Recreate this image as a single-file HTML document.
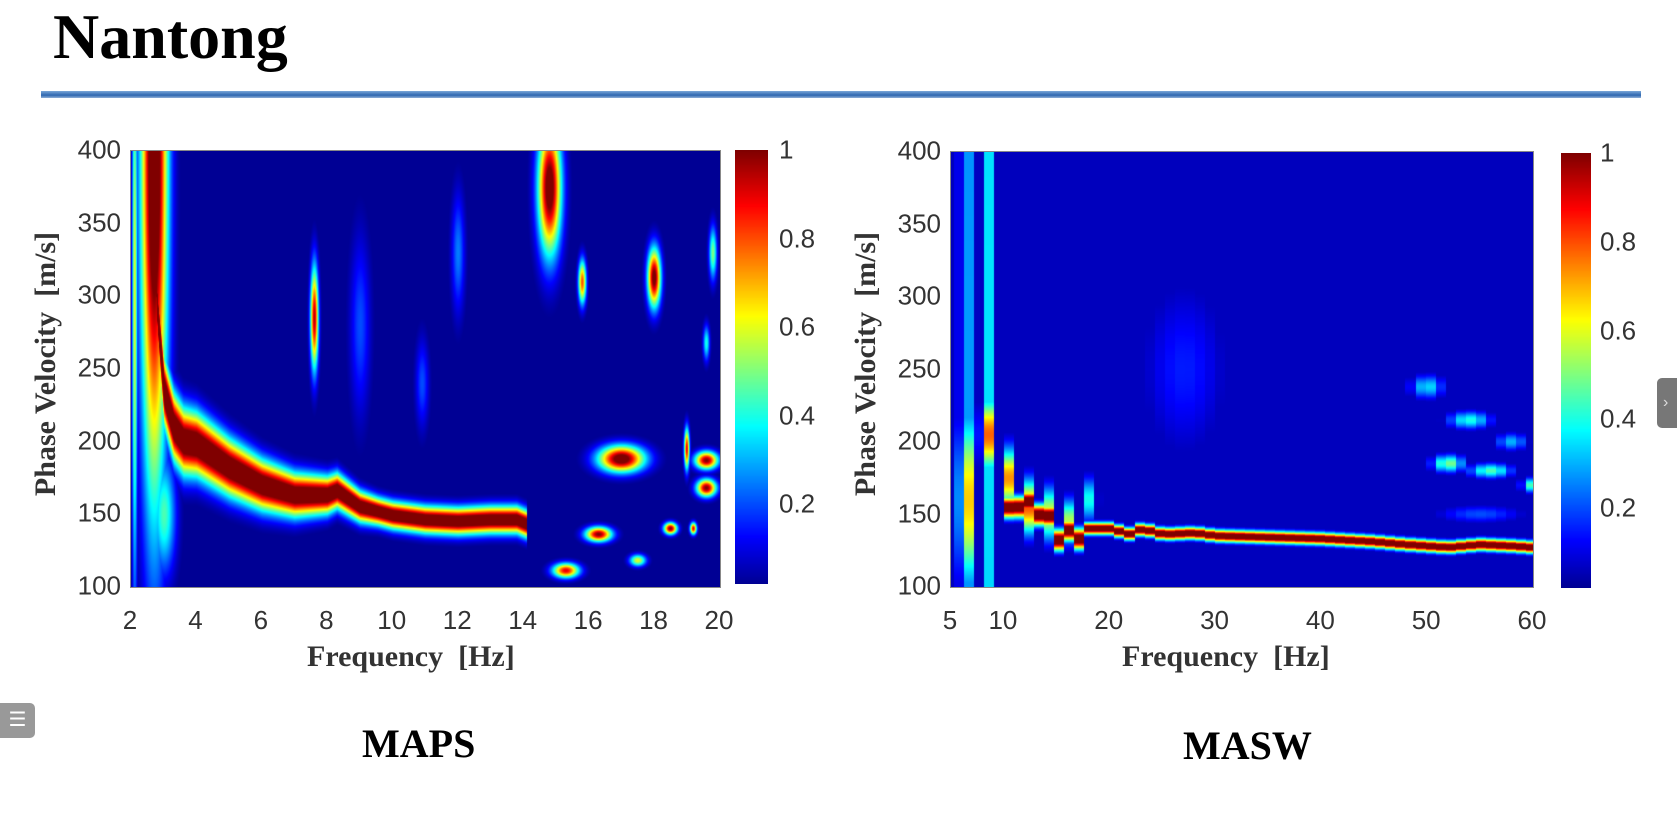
<!DOCTYPE html>
<html><head><meta charset="utf-8">
<style>
body{margin:0;width:1677px;height:832px;background:#fff;position:relative;overflow:hidden;font-family:"Liberation Sans",sans-serif;}
.abs{position:absolute;}
.tick{position:absolute;font-size:26px;color:#333;}
.xl{font-family:"Liberation Serif",serif;font-weight:bold;font-size:30px;color:#333;position:absolute;white-space:nowrap;}
canvas{position:absolute;}
</style></head><body>
<div class="abs" style="left:53px;top:0px;font-family:'Liberation Serif',serif;font-weight:bold;font-size:64px;color:#000;">Nantong</div>
<div class="abs" style="left:41px;top:91px;width:1600px;height:7px;background:linear-gradient(#7aa6d8,#2f67b0 60%,#8fb0d8);"></div>

<canvas id="c1" width="589" height="436" style="left:130px;top:150px;border:1px solid #888;box-sizing:border-box"></canvas>
<canvas id="cb1" width="33" height="434" style="left:735px;top:150px;"></canvas>
<canvas id="c2" width="582" height="435" style="left:950px;top:151px;border:1px solid #888;box-sizing:border-box"></canvas>
<canvas id="cb2" width="30" height="435" style="left:1561px;top:153px;"></canvas>
<div id="labels"></div>

<div class="xl" style="left:307px;top:640px;">Frequency&nbsp; [Hz]</div>
<div class="xl" style="left:1122px;top:640px;">Frequency&nbsp; [Hz]</div>
<div class="xl" style="left:46px;top:364px;transform:translate(-50%,-50%) rotate(-90deg);">Phase Velocity&nbsp; [m/s]</div>
<div class="xl" style="left:866px;top:364px;transform:translate(-50%,-50%) rotate(-90deg);">Phase Velocity&nbsp; [m/s]</div>
<div class="abs" style="left:362px;top:720px;font-family:'Liberation Serif',serif;font-weight:bold;font-size:40px;">MAPS</div>
<div class="abs" style="left:1183px;top:722px;font-family:'Liberation Serif',serif;font-weight:bold;font-size:40px;">MASW</div>
<div class="abs" style="left:1657px;top:378px;width:22px;height:50px;background:#777;border-radius:5px 0 0 5px;color:#ddd;font-size:16px;line-height:50px;text-indent:6px;">›</div>
<div class="abs" style="left:0;top:703px;width:35px;height:35px;background:#999;border-radius:0 5px 5px 0;color:#fff;font-size:20px;line-height:35px;text-align:center;">☰</div>

<script>
// MAPS data
const mapsFreqTicks=[2,4,6,8,10,12,14,16,18,20];
const velTicks=[100,150,200,250,300,350,400];
const cbTicks=[0.2,0.4,0.6,0.8,1];
const mapsCurveF=[2.6,2.8,3.0,3.3,3.6,4.0,4.5,5,6,7,8,8.3,9,10,11,12,13,13.8,14.1];
const mapsCurveV=[400,290,235,210,200,198,190,182,170,163,163,166,155,149,146,145,146,146,143];
// blobs: f, v, sf, sv, amp
const mapsBlobF=[2.7,2.1,7.6,14.8,15.8,17.0,18.0,19.0,19.6,19.6,16.3,18.5,19.2,15.3,17.5,19.8,12.0,9.0,19.6,10.9,3.0];
const mapsBlobV=[400,300,285,375,310,188,313,195,187,168,136,140,140,111,118,330,330,280,268,240,150];
const mapsBlobSF=[0.4,0.08,0.12,0.35,0.12,0.7,0.2,0.08,0.35,0.3,0.4,0.2,0.1,0.4,0.25,0.12,0.2,0.3,0.1,0.2,0.35];
const mapsBlobSV=[230,200,35,45,15,9,20,14,6,6,5,4,4,5,4,18,40,60,12,30,40];
const mapsBlobA=[1.2,0.6,0.95,1.1,0.8,1.1,1.05,0.9,1.0,1.0,1.0,1.0,0.9,0.9,0.6,0.5,0.25,0.2,0.4,0.2,0.45];
// MASW data
const maswFreqTicks=[5,10,20,30,40,50,60];
const maswCurveF=[10,11,12,13,14,15,16,17,18,20,22,23,25,28,30,35,40,45,48,52,55,58,60];
const maswCurveV=[160,148,165,147,155,130,140,132,140,140,136,140,136,137,135,134,133,131,129,127,129,128,127];
const maswBlobF=[6.3,6.3,8.3,8.3,10.3,12.3,14.3,16.3,18.3,27.0,50,54,58,52,56,60,55];
const maswBlobV=[250,160,300,205,175,155,150,145,160,250,238,215,200,185,180,170,150];
const maswBlobSF=[0.5,0.5,0.5,0.5,0.5,0.5,0.5,0.5,0.5,4,1.5,2,1.5,1.5,2,1,4];
const maswBlobSV=[1000,60,1000,25,20,18,18,15,15,60,8,6,6,6,5,5,6];
const maswBlobA=[0.45,1.1,0.45,1.0,0.8,0.8,0.6,0.6,0.5,0.15,0.35,0.4,0.3,0.5,0.45,0.45,0.2];

function jet(t){t=Math.max(0,Math.min(1,t));
 const r=Math.max(0,Math.min(1,1.5-Math.abs(4*t-3))),g=Math.max(0,Math.min(1,1.5-Math.abs(4*t-2))),b=Math.max(0,Math.min(1,1.5-Math.abs(4*t-1)));
 return [r*255,g*255,b*255];}
function interp(xs,ys,x){if(x<xs[0]||x>xs[xs.length-1])return null;for(let i=1;i<xs.length;i++)if(x<=xs[i]){const t=(x-xs[i-1])/(xs[i]-xs[i-1]);return ys[i-1]+t*(ys[i]-ys[i-1]);}return ys[ys.length-1];}
function draw(id,f0,f1,cf,cv,wfun,bf,bv,bsf,bsv,ba,cols,bg){
 const c=document.getElementById(id),ctx=c.getContext('2d'),W=c.width,H=c.height,img=ctx.createImageData(W,H);
 for(let x=0;x<W;x++){let f=f0+(f1-f0)*x/(W-1);if(cols)f=Math.round(f/cols)*cols;
  const vc=interp(cf,cv,f);
  for(let y=0;y<H;y++){const v=400-300*y/(H-1);let val=bg;
   if(vc!==null){const w=wfun(f);val=Math.max(val,1.15*Math.exp(-Math.pow((v-vc)/w,2)));}
   for(let k=0;k<bf.length;k++){const d=Math.pow((f-bf[k])/bsf[k],2)+Math.pow((v-bv[k])/bsv[k],2);if(d<9)val=Math.max(val,ba[k]*Math.exp(-d));}
   const col=jet(Math.min(val,1));const i=(y*W+x)*4;img.data[i]=col[0];img.data[i+1]=col[1];img.data[i+2]=col[2];img.data[i+3]=255;}}
 ctx.putImageData(img,0,0);}
draw('c1',2,20,mapsCurveF,mapsCurveV,f=>Math.max(9,30-2.2*f),mapsBlobF,mapsBlobV,mapsBlobSF,mapsBlobSV,mapsBlobA,0,0.02);
draw('c2',5,60,maswCurveF,maswCurveV,f=>f<18?7:4,maswBlobF,maswBlobV,maswBlobSF,maswBlobSV,maswBlobA,0.95,0.06);
['cb1','cb2'].forEach(id=>{const c=document.getElementById(id),ctx=c.getContext('2d');for(let y=0;y<c.height;y++){const col=jet(0.02+0.98*(1-y/(c.height-1)));ctx.fillStyle=`rgb(${col[0]|0},${col[1]|0},${col[2]|0})`;ctx.fillRect(0,y,c.width,1);}});

const L=document.getElementById('labels');
function lab(name,txt,x,y,anchor){const d=document.createElement('div');d.className='tick';d.textContent=txt;
 
 
 d.style.left=x+'px';d.style.top=y+'px';d.style.transform=anchor;L.appendChild(d);}
mapsFreqTicks.forEach(t=>lab('maps-x-tick',t,130+589*(t-2)/18,605,'translateX(-50%)'));
maswFreqTicks.forEach(t=>lab('masw-x-tick',t,950+582*(t-5)/55,605,'translateX(-50%)'));
velTicks.forEach(t=>{lab('maps-y-tick',t,121,150+436*(400-t)/300,'translate(-100%,-50%)');lab('masw-y-tick',t,941,151+435*(400-t)/300,'translate(-100%,-50%)');});
cbTicks.forEach(t=>{lab('maps-colorbar-tick',t,779,150+434*(1-(t-0.02)/0.98),'translateY(-50%)');lab('masw-colorbar-tick',t,1600,153+435*(1-(t-0.02)/0.98),'translateY(-50%)');});
</script>
</body></html>
